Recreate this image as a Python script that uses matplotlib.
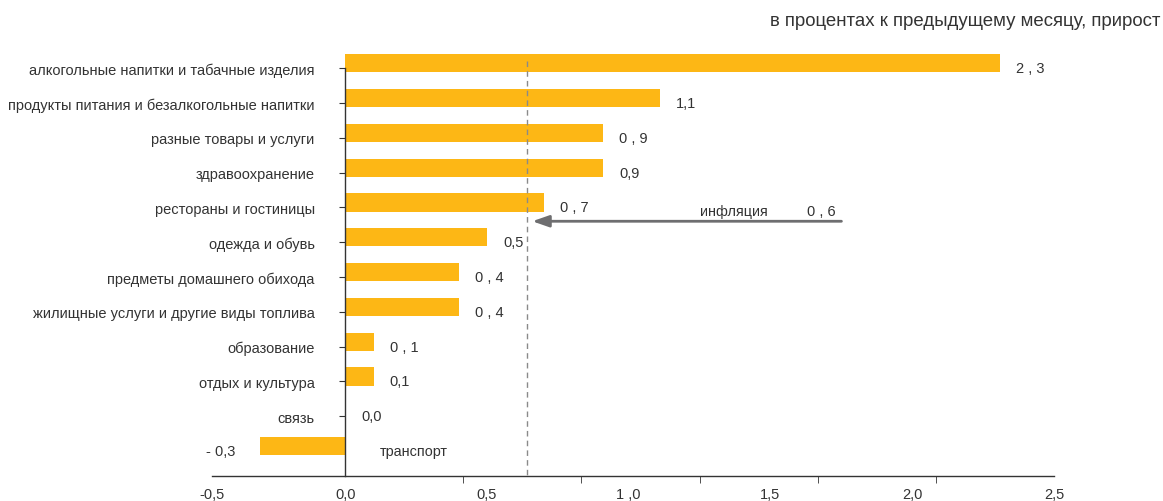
"""Индекс потребительских цен по группам товаров и услуг"""
import matplotlib
matplotlib.use("Agg")
import matplotlib.pyplot as plt
import numpy as np

plt.rcParams['font.family'] = ['Liberation Sans', 'DejaVu Sans']

# данные
categories = [
    "алкогольные напитки и табачные изделия",
    "продукты питания и безалкогольные напитки",
    "разные товары и услуги",
    "здравоохранение",
    "рестораны и гостиницы",
    "одежда и обувь",
    "предметы домашнего обихода",
    "жилищные услуги и другие виды топлива",
    "образование",
    "отдых и культура",
    "связь",
    "транспорт",
]
values = [2.31, 1.11, 0.91, 0.91, 0.70, 0.50, 0.40, 0.40, 0.10, 0.10, 0.0, -0.30]
value_labels = ["2 , 3", "1,1", "0 , 9", "0,9", "0 , 7", "0,5", "0 , 4", "0 , 4",
                "0 , 1", "0,1", "0,0", "- 0,3"]
inflation = 0.64
inflation_label = "0 , 6"
xtick_values = [-0.47, 0.0, 0.5, 1.0, 1.5, 2.0, 2.5]
xtick_labels = ["-0,5", "0,0", "0,5", "1 ,0", "1,5", "2,0", "2,5"]

BAR = "#FDB715"
TXT = "#333333"
GREY = "#6e6e70"

fig = plt.figure(figsize=(11.63, 5.02), dpi=100)
ax = fig.add_axes([212 / 1163, 25 / 502, 842 / 1163, 427 / 502])

y = np.arange(len(categories))
ax.barh(y - 0.14, values, height=0.52, color=BAR, zorder=2)

ax.set_xlim(-0.47, 2.5)
ax.set_ylim(11.72, -0.55)

# вертикальная ось через ноль
for s in ["top", "right"]:
    ax.spines[s].set_visible(False)
ax.spines["left"].set_position(("data", 0))
ax.spines["left"].set_bounds(0, 11.72)
ax.spines["left"].set_color(TXT)
ax.spines["left"].set_linewidth(1.0)
ax.spines["left"].set_zorder(3)
ax.spines["bottom"].set_color(TXT)
ax.spines["bottom"].set_linewidth(1.0)

ax.set_yticks(y)
ax.set_yticklabels(categories[:-1] + [""], fontsize=10.5, color=TXT)
ax.tick_params(axis="y", length=4, pad=18, color=TXT)

ax.set_xticks(xtick_values)
ax.set_xticklabels(xtick_labels, fontsize=10.5, color=TXT)
ax.tick_params(axis="x", which="major", length=0, pad=8)
ax.set_xticks(np.linspace(0, 2.5, 7).tolist() + [-0.47], minor=True)
ax.tick_params(axis="x", which="minor", length=5, color=TXT)

# подписи значений
for i, (v, lab) in enumerate(zip(values, value_labels)):
    if v < 0:
        ax.annotate(lab, (v, i), xytext=(-25, 0), textcoords="offset pixels",
                    ha="right", va="center", fontsize=10.5, color=TXT)
    else:
        ax.annotate(lab, (v, i), xytext=(16, 0), textcoords="offset pixels",
                    ha="left", va="center", fontsize=10.5, color=TXT)
ax.annotate(categories[-1], (0, len(categories) - 1), xytext=(35, 0),
            textcoords="offset pixels", ha="left", va="center",
            fontsize=10.4, color=TXT)

# линия инфляции
ax.plot([inflation, inflation], [-0.2, 11.72], ls=(0, (4, 3)), color="#8a8a8a",
        lw=1.0, zorder=3, clip_on=False)
ax.annotate("", xy=(inflation + 0.01, 4.4), xytext=(1.76, 4.4),
            arrowprops=dict(arrowstyle="-|>,head_length=1.0,head_width=0.35",
                            color=GREY, lw=2))
ax.text(1.37, 4.1, "инфляция", ha="center", va="center", fontsize=10.4, color=TXT)
ax.text(1.68, 4.1, inflation_label, ha="center", va="center", fontsize=10.5, color=TXT)

fig.text(1160 / 1163, 1 - 22 / 502, "в процентах к предыдущему месяцу, прирост",
         ha="right", va="center", fontsize=13.4, color=TXT)

fig.savefig("out.png", dpi=100)
